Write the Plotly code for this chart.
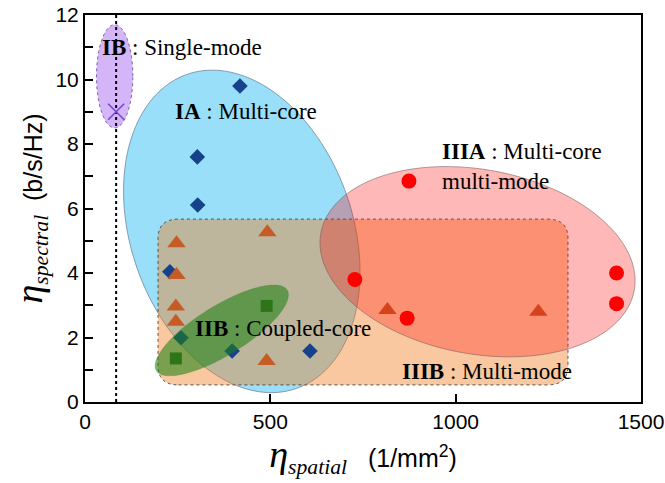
import numpy as np
import plotly.graph_objects as go

# ---------------- data ----------------
ia_x = [418, 303, 304, 229, 259, 397, 607]
ia_y = [9.8, 7.6, 6.11, 4.04, 1.99, 1.58, 1.58]

ib_x = [84]
ib_y = [9.0]

iib_x = [490, 245]
iib_y = [2.98, 1.35]

iiia_x = [874, 728, 869, 1434, 1434]
iiia_y = [6.85, 3.8, 2.6, 4.0, 3.05]

iiib_x = [492, 247, 247, 245, 245, 490, 816, 1223]
iiib_y = [5.26, 4.92, 3.94, 2.96, 2.49, 1.27, 2.85, 2.8]

smf_x = 84  # single-mode fibre reference line

x_ticks = [0, 500, 1000, 1500]
y_ticks = [0, 2, 4, 6, 8, 10, 12]

# region outlines: (cx, cy, half-width, half-height, correlation)
region_ia = (423, 5.29, 319, 5.0, -0.25)
region_ib = (80, 10.1, 49, 1.6, 0.0)
region_iib = (369, 2.22, 180, 1.41, 0.78)
region_iiia = (1059, 4.35, 425, 2.95, -0.2)
region_iiib = (197, 0.53, 1303, 5.67)  # x0, y0, x1, y1

labels = [
    (40, 10.98, "<b>IB</b> : Single-mode"),
    (237, 9.0, "<b>IA</b> : Multi-core"),
    (958, 7.3, "<b>IIIA</b> : Multi-core<br>multi-mode"),
    (291, 2.29, "<b>IIB</b> : Coupled-core"),
    (850, 0.94, "<b>IIIB</b> : Multi-mode"),
]


def ellipse_path(cx, cy, hx, hy, rho, n=160):
    t = np.linspace(0, 2 * np.pi, n)
    xs = cx + hx * np.cos(t)
    ys = cy + hy * (rho * np.cos(t) + np.sqrt(1 - rho ** 2) * np.sin(t))
    pts = [f"{a:.3f},{b:.4f}" for a, b in zip(xs, ys)]
    return "M " + " L ".join(pts) + " Z"


def rounded_rect(x0, y0, x1, y1, rx, ry):
    return (f"M {x0+rx},{y0} L {x1-rx},{y0} Q {x1},{y0} {x1},{y0+ry} "
            f"L {x1},{y1-ry} Q {x1},{y1} {x1-rx},{y1} L {x0+rx},{y1} "
            f"Q {x0},{y1} {x0},{y1-ry} L {x0},{y0+ry} Q {x0},{y0} {x0+rx},{y0} Z")


fig = go.Figure()

shapes = [
    dict(type="path", path=ellipse_path(*region_ia), layer="below",
         fillcolor="rgba(0,176,240,0.40)", line=dict(color="rgba(90,110,130,0.8)", width=0.8)),
    dict(type="path", path=rounded_rect(*region_iiib, 55, 0.6), layer="below",
         fillcolor="rgba(242,117,17,0.40)", line=dict(color="rgba(70,70,70,0.9)", width=1, dash="dot")),
    dict(type="path", path=ellipse_path(*region_ib), layer="below",
         fillcolor="rgba(160,90,240,0.45)", line=dict(color="rgba(110,80,160,0.9)", width=1, dash="dot")),
    dict(type="path", path=ellipse_path(*region_iiia), layer="above",
         fillcolor="rgba(255,0,0,0.28)", line=dict(color="rgba(120,90,90,0.7)", width=0.8)),
    dict(type="path", path=ellipse_path(*region_iib), layer="above",
         fillcolor="rgba(30,130,20,0.58)", line=dict(color="rgba(30,130,20,0.3)", width=0.5)),
    dict(type="line", x0=smf_x, x1=smf_x, y0=0, y1=12, xref="x", yref="y", layer="below",
         line=dict(color="black", width=2, dash="dot")),
]

fig.add_trace(go.Scatter(x=ia_x, y=ia_y, mode="markers", name="IA",
                         marker=dict(symbol="diamond", size=12, color="rgb(22,66,140)")))
fig.add_trace(go.Scatter(x=iiib_x, y=iiib_y, mode="markers", name="IIIB",
                         marker=dict(symbol="triangle-up", size=16, color="rgb(197,92,38)")))
fig.add_trace(go.Scatter(x=iib_x, y=iib_y, mode="markers", name="IIB",
                         marker=dict(symbol="square", size=12, color="rgb(70,100,30)")))
fig.add_trace(go.Scatter(x=iiia_x, y=iiia_y, mode="markers", name="IIIA",
                         marker=dict(symbol="circle", size=15, color="rgb(255,0,0)")))
fig.add_trace(go.Scatter(x=ib_x, y=ib_y, mode="markers", name="IB",
                         marker=dict(symbol="x-thin-open", size=16, color="rgb(120,70,210)",
                                     line=dict(width=1.6, color="rgb(120,70,210)"))))

annotations = []
for ax_, ay_, txt in labels:
    annotations.append(dict(x=ax_, y=ay_, xref="x", yref="y", text=txt, showarrow=False,
                            xanchor="left", yanchor="middle", align="left",
                            font=dict(family="Liberation Serif", size=23, color="black")))

serif = "font-family:Liberation Serif"
sans = "font-family:Liberation Sans;font-size:25px"
x_title = (f"<span style='{serif};font-size:38px'><i>η</i></span>"
           f"<span style='{serif};font-size:31px'><sub><i>spatial</i></sub></span>"
           f"<span style='{sans}'>   (1/mm<sup>2</sup>)</span>")
y_title = (f"<span style='{serif};font-size:38px'><i>η</i></span>"
           f"<span style='{serif};font-size:31px'><sub><i>spectral</i></sub></span>"
           f"<span style='{sans}'>  (b/s/Hz)</span>")

fig.update_layout(
    width=665, height=483,
    margin=dict(l=85, r=24, t=15, b=81),
    paper_bgcolor="white", plot_bgcolor="white",
    showlegend=False,
    shapes=shapes,
    annotations=annotations,
    font=dict(family="Liberation Sans", size=21, color="black"),
)
fig.update_xaxes(range=[0, 1500], tickvals=x_ticks, ticks="inside", ticklen=8, tickwidth=1.5,
                 tickcolor="black", showline=True, linecolor="black", linewidth=2, mirror=True,
                 showgrid=False, zeroline=False, automargin=False,
                 title=dict(text=x_title, standoff=2, font=dict(family="Liberation Sans", size=25)))
fig.update_yaxes(range=[0, 12], tickvals=y_ticks, ticks="inside", ticklen=8, tickwidth=1.5,
                 tickcolor="black", showline=True, linecolor="black", linewidth=2, mirror=True,
                 showgrid=False, zeroline=False, automargin=False,
                 minor=dict(dtick=1, ticks="inside", ticklen=8, tickwidth=1.5, tickcolor="black"),
                 title=dict(text=y_title, standoff=6, font=dict(family="Liberation Sans", size=25)))

fig.write_html("out.html")
